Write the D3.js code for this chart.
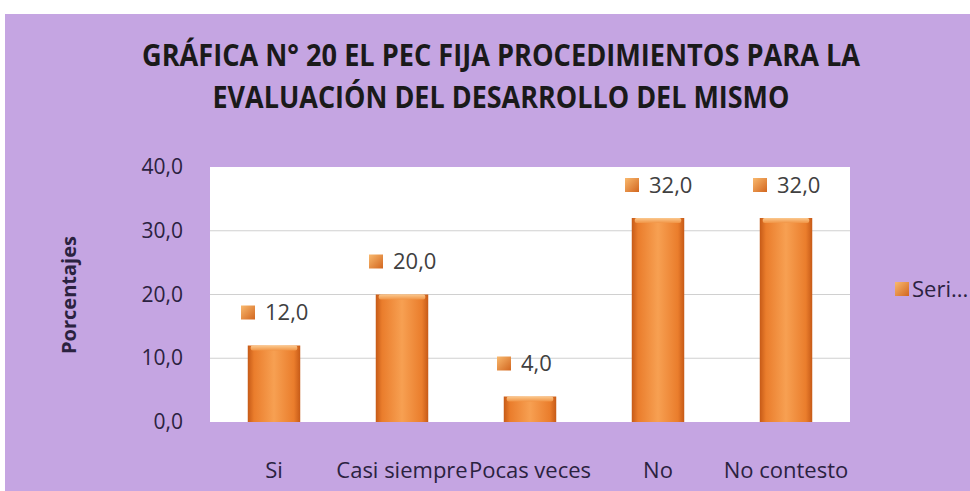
<!DOCTYPE html>
<html><head><meta charset="utf-8">
<script src="https://cdn.jsdelivr.net/npm/d3@7/dist/d3.min.js"></script>
<style>html,body{margin:0;padding:0;background:#fff;}svg{display:block;}</style>
</head><body>
<svg id="c" width="970" height="491"></svg>
<script>
const categories = ["Si", "Casi siempre", "Pocas veces", "No", "No contesto"];
const values = [12.0, 20.0, 4.0, 32.0, 32.0];
const yTicks = [0, 10, 20, 30, 40];
const titleLines = ["GRÁFICA N° 20 EL PEC FIJA PROCEDIMIENTOS PARA LA", "EVALUACIÓN DEL DESARROLLO DEL MISMO"];
const yTitle = "Porcentajes";
const seriesName = "Seri...";

const svg = d3.select("#c");
const FONT = "'Liberation Sans Narrow','Open Sans','Noto Sans',sans-serif";
const defs = svg.append("defs");
const g1 = defs.append("linearGradient").attr("id","barg").attr("x1","0").attr("x2","1").attr("y1","0").attr("y2","0");
[[0,"#c65a17"],[0.12,"#ea7d2c"],[0.5,"#f7a052"],[0.88,"#ea7d2c"],[1,"#c65a17"]].forEach(([o,c])=>g1.append("stop").attr("offset",o).attr("stop-color",c));
const g2 = defs.append("linearGradient").attr("id","topg").attr("x1","0").attr("x2","0").attr("y1","0").attr("y2","1");
[[0,"#fbc98f"],[1,"#f19445"]].forEach(([o,c])=>g2.append("stop").attr("offset",o).attr("stop-color",c));
const g3 = defs.append("linearGradient").attr("id","sqg").attr("x1","0").attr("x2","1").attr("y1","0").attr("y2","1");
[[0,"#f9b96e"],[1,"#d2661f"]].forEach(([o,c])=>g3.append("stop").attr("offset",o).attr("stop-color",c));

// background
svg.append("rect").attr("x",5).attr("y",14).attr("width",965).attr("height",477).attr("fill","#c5a5e2");

const plot = {l:210, r:850, t:167, b:422};
const x = d3.scaleBand().domain(categories).range([plot.l, plot.r]).paddingInner(0.59).paddingOuter(0.295);
const y = d3.scaleLinear().domain([0,40]).range([plot.b, plot.t]);

svg.append("rect").attr("x",plot.l).attr("y",plot.t).attr("width",plot.r-plot.l).attr("height",plot.b-plot.t).attr("fill","#ffffff");

// gridlines
svg.append("g").selectAll("line").data(yTicks.filter(d=>d>0 && d<40)).join("line")
  .attr("x1",plot.l).attr("x2",plot.r).attr("y1",d=>y(d)).attr("y2",d=>y(d))
  .attr("stroke","#d0d0d0").attr("stroke-width",1.2);

// y axis
const yAxis = d3.axisLeft(y).tickValues(yTicks).tickSize(0).tickPadding(27)
  .tickFormat(d=>d3.format(".1f")(d).replace(".",","));
const ya = svg.append("g").attr("transform",`translate(${plot.l},0)`).call(yAxis);
ya.select(".domain").remove();
ya.selectAll("text").attr("font-family",FONT).attr("font-size",21).attr("fill","#2b2240");

// x axis
const xAxis = d3.axisBottom(x).tickSize(0).tickPadding(40);
const xa = svg.append("g").attr("transform",`translate(0,${plot.b})`).call(xAxis);
xa.select(".domain").remove();
xa.selectAll("text").attr("font-family",FONT).attr("font-size",22).attr("fill","#2b2240");

// bars
const bars = svg.append("g").selectAll("g").data(categories.map((c,i)=>({c,v:values[i]}))).join("g");
bars.append("rect").attr("x",d=>x(d.c)).attr("y",d=>y(d.v)).attr("width",x.bandwidth()).attr("height",d=>y(0)-y(d.v))
  .attr("fill","url(#barg)");
bars.append("rect").attr("x",d=>x(d.c)+3).attr("y",d=>y(d.v)).attr("width",x.bandwidth()-6).attr("height",5)
  .attr("fill","url(#topg)").attr("rx",2);

// data labels
const lab = svg.append("g").selectAll("g").data(categories.map((c,i)=>({c,v:values[i]}))).join("g")
  .attr("transform",d=>`translate(${x(d.c)+x.bandwidth()/2},${y(d.v)-33})`);
lab.append("rect").attr("x",-33).attr("y",-7).attr("width",14).attr("height",14).attr("fill","url(#sqg)");
lab.append("text").attr("x",-9).attr("dy","0.35em").attr("font-family",FONT).attr("font-size",22).attr("fill","#404040")
  .text(d=>d3.format(".1f")(d.v).replace(".",","));

// title
const tt = svg.append("g");
const tLen = [718, 577];
tt.selectAll("text").data(titleLines).join("text")
  .attr("x",501).attr("y",(d,i)=>[66,108][i]).attr("text-anchor","middle")
  .attr("font-family",FONT).attr("font-weight","bold").attr("font-size",31).attr("fill","#1a1a1a")
  .attr("textLength",(d,i)=>tLen[i]).attr("lengthAdjust","spacingAndGlyphs").text(d=>d);

// y title
svg.append("text").attr("transform","translate(76,295) rotate(-90)").attr("text-anchor","middle")
  .attr("font-family",FONT).attr("font-weight","bold").attr("font-size",20).attr("fill","#2b2240").text(yTitle);

// legend
svg.append("rect").attr("x",895).attr("y",282).attr("width",14).attr("height",14).attr("fill","url(#sqg)");
svg.append("text").attr("x",912).attr("y",289).attr("dy","0.35em").attr("font-family",FONT).attr("font-size",22).attr("fill","#2b2240").text(seriesName);
</script>
</body></html>
